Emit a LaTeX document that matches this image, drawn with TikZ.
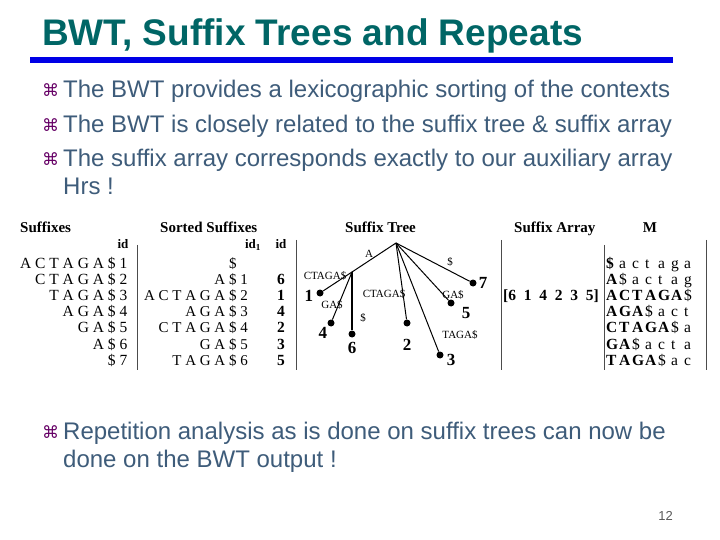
\documentclass[tikz,border=0pt]{standalone}
\usepackage{fontspec}
\setmainfont{Liberation Serif}
\newfontfamily\bodyfont{Liberation Sans}
\newfontfamily\symfont{DejaVu Sans}
\usepackage{xcolor}
\usetikzlibrary{positioning}

\definecolor{titleteal}{RGB}{0,102,102}
\definecolor{barblue}{RGB}{0,0,230}
\definecolor{bodyblue}{RGB}{62,92,122}
\definecolor{bulletpurple}{RGB}{102,0,102}

% one fixed-width cell of the matrix M
\newcommand{\mc}[1]{\makebox[13bp][l]{#1}}

\tikzset{
  bodytext/.style={anchor=base west, inner sep=0pt, text=bodyblue, font=\bodyfont\fontsize{24bp}{28bp}\selectfont},
  bulletmark/.style={anchor=base west, inner sep=0pt, text=bulletpurple, font=\symfont\fontsize{17bp}{20bp}\selectfont},
  colhead/.style={anchor=base west, inner sep=0pt, font=\bfseries\fontsize{15bp}{18bp}\selectfont},
  subhead/.style={anchor=base, inner sep=0pt, font=\bfseries\fontsize{13bp}{16bp}\selectfont},
  tabcol/.style={inner sep=0pt, font=\fontsize{15.5bp}{16.2bp}\selectfont},
  tabbold/.style={inner sep=0pt, font=\bfseries\fontsize{15.5bp}{16.2bp}\selectfont},
  colrule/.style={line width=1bp, black!70},
  leaf/.style={circle, fill=black, inner sep=0pt, minimum size=7bp},
  leafnum/.style={inner sep=0pt, font=\bfseries\fontsize{17bp}{20bp}\selectfont},
  edgelabel/.style={inner sep=0pt, font=\fontsize{11bp}{13bp}\selectfont},
  treeedge/.style={line width=1bp}
}

\begin{document}
\begin{tikzpicture}[x=1bp, y=-1bp]

    \useasboundingbox[fill=white] (0,0) rectangle (720,540);

    % Title and bar
    \node (title) [anchor=base west, inner sep=0pt, text=titleteal, font=\bodyfont\bfseries\fontsize{37bp}{40bp}\selectfont] at (42,46) {BWT, Suffix Trees and Repeats};
    \fill[barblue] (30,57) rectangle (673,63);

    % Bullet points at the top
    \node (b1) [bulletmark] at (42,97) {⌘};
    \node (t1) [bodytext] at (63,98) {The BWT provides a lexicographic sorting of the contexts};
    \node (b2) [bulletmark] at (42,132) {⌘};
    \node (t2) [bodytext] at (63,133) {The BWT is closely related to the suffix tree \& suffix array};
    \node (b3) [bulletmark] at (42,166) {⌘};
    \node (t3) [bodytext] at (63,167) {The suffix array corresponds exactly to our auxiliary array};
    \node (t3b) [bodytext] at (63,195) {Hrs !};

    % Column headers
    \node (hsuf) [colhead] at (20,233) {Suffixes};
    \node (hsorted) [colhead] at (160,233) {Sorted Suffixes};
    \node (htree) [colhead] at (345,233) {Suffix Tree};
    \node (harray) [colhead] at (514,233) {Suffix Array};
    \node (hm) [colhead, anchor=base] at (650,233) {M};
    \node (hid) [subhead] at (123,249) {id};
    \node (hidone) [subhead] at (253,249) {id\textsubscript{1}};
    \node (hidtwo) [subhead] at (281,249) {id};

    % Column rules
    \draw[colrule] (137,245) -- (137,370);
    \draw[colrule] (296,240) -- (296,370);
    \draw[colrule] (501,240) -- (501,370);
    \draw[colrule] (604,245) -- (604,370);
    \draw[colrule] (706,240) -- (706,370);

    % Suffixes and sorted suffixes
    \node (suffixes) [tabcol, align=right, anchor=north east] at (127.5,256.6) {\strut A C T A G A \$ 1\\ C T A G A \$ 2\\ T A G A \$ 3\\ A G A \$ 4\\ G A \$ 5\\ A \$ 6\\ \$ 7};
    \node (sorted) [tabcol, align=right, anchor=north east, font=\fontsize{15bp}{16.2bp}\selectfont] at (248,256.6) {\strut \$\phantom{~1}\\ A \$ 1\\ A C T A G A \$ 2\\ A G A \$ 3\\ C T A G A \$ 4\\ G A \$ 5\\ T A G A \$ 6};
    \node (ids) [tabbold, align=center, anchor=north] at (281,272.8) {\strut 6\\ 1\\ 4\\ 2\\ 3\\ 5};

    % Suffix tree
    \coordinate (root) at (396,243);
    \coordinate (nodeA) at (352,272);
    \node (leaf1) [leaf] at (320,293) {};
    \node (leaf4) [leaf] at (331,323) {};
    \node (leaf6) [leaf] at (352,334) {};
    \node (leaf2) [leaf] at (407,323) {};
    \node (leaf3) [leaf] at (440,355) {};
    \node (leaf5) [leaf] at (451,303) {};
    \node (leaf7) [leaf] at (473,283) {};

    \draw[treeedge] (root) -- (nodeA);
    \draw[treeedge] (nodeA) -- (leaf1);
    \draw[treeedge] (nodeA) -- (leaf4);
    \draw[treeedge, line width=1.8bp] (nodeA) -- (leaf6);
    \draw[treeedge] (root) -- (leaf2);
    \draw[treeedge] (root) -- (leaf3);
    \draw[treeedge] (root) -- (leaf5);
    \draw[treeedge] (root) -- (leaf7);

    \node (num1) [leafnum, left=3bp of leaf1, yshift=-3bp] {1};
    \node (num4) [leafnum, below left=1bp and 1bp of leaf4] {4};
    \node (num6) [leafnum, below=4bp of leaf6] {6};
    \node (num2) [leafnum, below=12bp of leaf2] {2};
    \node (num3) [leafnum, right=3bp of leaf3, yshift=-5bp] {3};
    \node (num5) [leafnum, below right=2bp and 8bp of leaf5] {5};
    \node (num7) [leafnum, right=2bp of leaf7] {7};

    \node (lblA) [edgelabel] at (369,254) {A};
    \node (lblone) [edgelabel] at (325,276) {CTAGA\$};
    \node (lblfour) [edgelabel] at (332,305) {GA\$};
    \node (lblsix) [edgelabel] at (363,318) {\$};
    \node (lbltwo) [edgelabel] at (384,294) {CTAGA\$};
    \node (lblfive) [edgelabel] at (453,295) {GA\$};
    \node (lblthree) [edgelabel] at (460,335) {TAGA\$};
    \node (lblseven) [edgelabel] at (450,262) {\$};

    % Suffix array and matrix M
    \node (sarray) [tabbold, anchor=base] at (551,300.4) {[6\enspace1\enspace4\enspace2\enspace3\enspace5]};
    \node (matrix) [tabcol, align=left, anchor=north west] at (606,256.6) {\strut\mc{\textbf{\$}}\mc{a}\mc{c}\mc{t}\mc{a}\mc{g}\mc{a}\\
        \mc{\textbf{A}}\mc{\$}\mc{a}\mc{c}\mc{t}\mc{a}\mc{g}\\
        \mc{\textbf{A}}\mc{\textbf{C}}\mc{\textbf{T}}\mc{\textbf{A}}\mc{\textbf{G}}\mc{\textbf{A}}\mc{\$}\\
        \mc{\textbf{A}}\mc{\textbf{G}}\mc{\textbf{A}}\mc{\$}\mc{a}\mc{c}\mc{t}\\
        \mc{\textbf{C}}\mc{\textbf{T}}\mc{\textbf{A}}\mc{\textbf{G}}\mc{\textbf{A}}\mc{\$}\mc{a}\\
        \mc{\textbf{G}}\mc{\textbf{A}}\mc{\$}\mc{a}\mc{c}\mc{t}\mc{a}\\
        \mc{\textbf{T}}\mc{\textbf{A}}\mc{\textbf{G}}\mc{\textbf{A}}\mc{\$}\mc{a}\mc{c}};

    % Bullet point at the bottom
    \node (b4) [bulletmark] at (42,438) {⌘};
    \node (t4) [bodytext] at (63,439) {Repetition analysis as is done on suffix trees can now be};
    \node (t4b) [bodytext] at (63,467) {done on the BWT output !};

    % Page number
    \node (pagenum) [anchor=base east, inner sep=0pt, text=black!65, font=\bodyfont\fontsize{13bp}{15bp}\selectfont] at (673,520) {12};

\end{tikzpicture}
\end{document}
